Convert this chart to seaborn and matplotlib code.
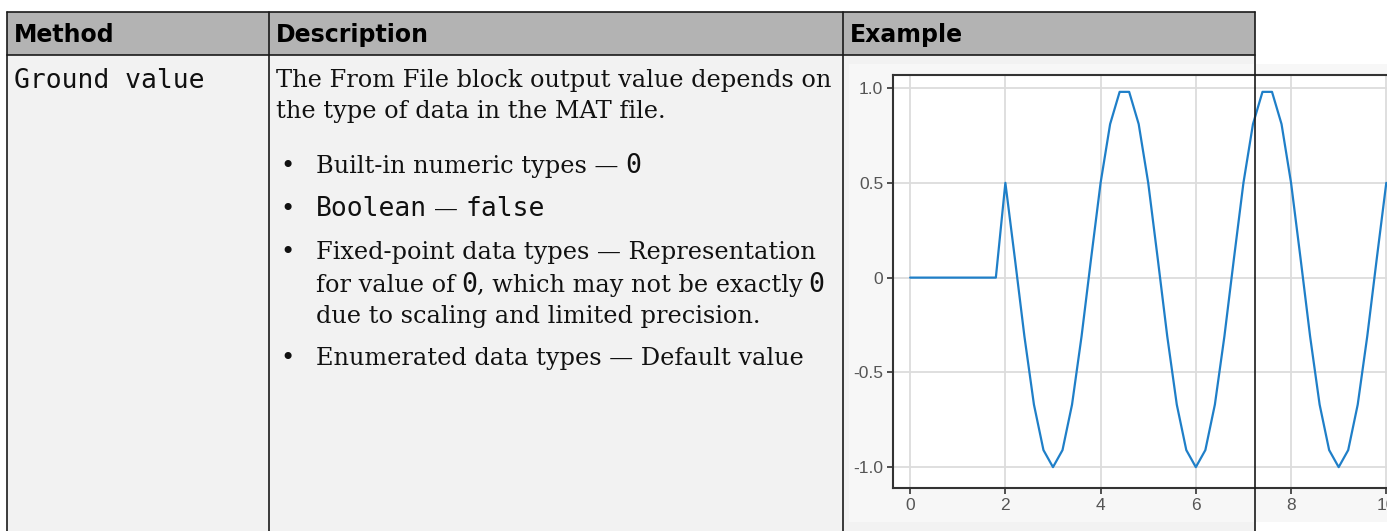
import matplotlib
matplotlib.use("Agg")
import matplotlib.pyplot as plt
from matplotlib.patches import Rectangle
from matplotlib.lines import Line2D
import seaborn as sns
import pandas as pd

sns.set_style("whitegrid")

# --- data ---
time = [0.0, 0.2, 0.4, 0.6, 0.8, 1.0, 1.2, 1.4, 1.6, 1.8,
        2.0, 2.2, 2.4, 2.6, 2.8, 3.0, 3.2, 3.4, 3.6, 3.8,
        4.0, 4.2, 4.4, 4.6, 4.8, 5.0, 5.2, 5.4, 5.6, 5.8,
        6.0, 6.2, 6.4, 6.6, 6.8, 7.0, 7.2, 7.4, 7.6, 7.8,
        8.0, 8.2, 8.4, 8.6, 8.8, 9.0, 9.2, 9.4, 9.6, 9.8, 10.0]
signal = [0, 0, 0, 0, 0, 0, 0, 0, 0, 0,
          0.5, 0.1, -0.31, -0.67, -0.91, -1.0, -0.91, -0.67, -0.31, 0.1,
          0.5, 0.81, 0.98, 0.98, 0.81, 0.5, 0.1, -0.31, -0.67, -0.91,
          -1.0, -0.91, -0.67, -0.31, 0.1, 0.5, 0.81, 0.98, 0.98, 0.81,
          0.5, 0.1, -0.31, -0.67, -0.91, -1.0, -0.91, -0.67, -0.31, 0.1, 0.5]
xticks = [0, 2, 4, 6, 8, 10]
yticks = [-1.0, -0.5, 0, 0.5, 1.0]
ytick_labels = ["-1.0", "-0.5", "0", "0.5", "1.0"]

headers = ["Method", "Description", "Example"]
method = "Ground value"

SERIF = {"family": "DejaVu Serif", "size": 17.3}
MONO = {"family": "DejaVu Sans Mono", "size": 19}

W, H = 1387, 531
fig = plt.figure(figsize=(W / 100, H / 100), dpi=100)
fig.patch.set_facecolor("white")

# background axes in pixel coords (y down)
bg = fig.add_axes([0, 0, 1, 1])
bg.set_xlim(0, W)
bg.set_ylim(H, 0)
bg.axis("off")

L, R, T, HB = 7, 1255, 12, 55
C1, C2 = 269, 843
bg.add_patch(Rectangle((L, HB), R - L, H - HB + 5, fc="#f2f2f2", ec="none"))
bg.add_patch(Rectangle((L, T), R - L, HB - T, fc="#b3b3b3", ec="none"))
for xx in [L, C1, C2]:
    bg.plot([xx, xx], [T, H + 5], color="#1a1a1a", lw=1.2)
bg.plot([L, R], [T, T], color="#1a1a1a", lw=1.2)
bg.plot([L, R], [HB, HB], color="#1a1a1a", lw=1.2)

# light panel behind the example plot
bg.add_patch(Rectangle((849, 64), W - 849, 522 - 64, fc="#f7f7f7", ec="none"))

# header text
for txt, xx in zip(headers, [14, 276, 850]):
    bg.text(xx, 42, txt, family="DejaVu Sans", weight="bold", size=17,
            va="baseline", ha="left", color="black")

bg.text(14, 88, method, fontdict=MONO, va="baseline", ha="left", color="#111111")

renderer = fig.canvas.get_renderer()


def runs(x, y, parts):
    for txt, fd, pre in parts:
        x += pre
        t = bg.text(x, y, txt, fontdict=fd, va="baseline", ha="left", color="#111111")
        x += t.get_window_extent(renderer).width


desc = [
    (276, 87, [("The From File block output value depends on", SERIF, 0)]),
    (276, 118, [("the type of data in the MAT file.", SERIF, 0)]),
    (316, 173, [("Built-in numeric types \u2014", SERIF, 0), ("0", MONO, 7)]),
    (316, 216, [("Boolean", MONO, 0), ("\u2014", SERIF, 7), ("false", MONO, 7)]),
    (316, 259, [("Fixed-point data types \u2014 Representation", SERIF, 0)]),
    (316, 292, [("for value of", SERIF, 0), ("0", MONO, 6),
                (", which may not be exactly", SERIF, 0), ("0", MONO, 6)]),
    (316, 323, [("due to scaling and limited precision.", SERIF, 0)]),
    (316, 365, [("Enumerated data types \u2014 Default value", SERIF, 0)]),
]
for xx, yy, parts in desc:
    runs(xx, yy, parts)
for yy in [173, 216, 259, 365]:
    bg.text(287, yy, "\u2022", fontdict=SERIF, va="baseline", ha="center", color="#111111")

# --- example plot ---
ax = fig.add_axes([893 / W, (H - 488) / H, (1392 - 893) / W, (488 - 75) / H])
ax.set_facecolor("white")
df = pd.DataFrame({"t": time, "y": signal})
sns.lineplot(data=df, x="t", y="y", ax=ax, color="#1f7fc8", lw=1.6, estimator=None)
ax.set_xlim(-0.36, 10.12)
ax.set_ylim(-1.11, 1.069)
ax.set_xticks(xticks)
ax.set_yticks(yticks)
ax.set_yticklabels(ytick_labels)
ax.set_xlabel("")
ax.set_ylabel("")
ax.grid(True, color="#dcdcdc", lw=1.3)
for s in ax.spines.values():
    s.set_color("#333333")
    s.set_linewidth(1.5)
ax.tick_params(axis="both", which="both", direction="out", length=4, width=1.2,
               color="#333333", labelcolor="#555555", labelsize=12.5, pad=3,
               left=True, bottom=True)
for lab in ax.get_xticklabels() + ax.get_yticklabels():
    lab.set_family("Liberation Sans")

# table right border over the plot
fig.add_artist(Line2D([R / W, R / W], [0, (H - T) / H], color="#1a1a1a", lw=1.2, zorder=10))

fig.savefig("out.png", dpi=100)
